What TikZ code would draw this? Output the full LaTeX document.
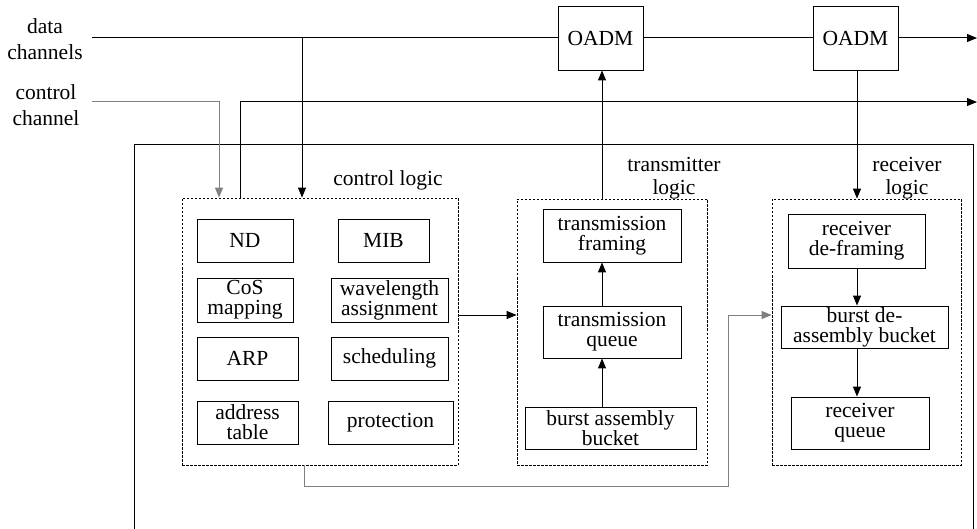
\documentclass[tikz,border=0pt]{standalone}
\usepackage{fontspec}
\setmainfont{Liberation Serif}
\usetikzlibrary{arrows.meta}
\begin{document}
\begin{tikzpicture}[x=1pt,y=-1pt,
  every node/.style={font=\fontsize{21.5}{20}\selectfont, inner sep=0pt, align=center},
  box/.style={draw=black, line width=0.9pt},
  dbox/.style={draw=black, line width=0.8pt, dash pattern=on 2.5pt off 1.5pt},
  arr/.style={-{Triangle[length=10pt,width=8pt]}},
  ln/.style={line width=1pt, black},
  gln/.style={line width=1pt, black!50},
  lbl/.style={font=\fontsize{21.5}{23}\selectfont},
  sidelbl/.style={font=\fontsize{21.5}{26}\selectfont}]
\useasboundingbox (0,0) rectangle (977,529);

% OADMs
\node[box, minimum width=85pt, minimum height=64pt] (o1) at (600.5,38) {OADM};
\node[box, minimum width=85pt, minimum height=64pt] (o2) at (855.5,38) {OADM};

% labels left
\node[sidelbl] (ldata) at (45,39) {data\\channels};
\node[sidelbl] (lctrl) at (46,105) {control\\channel};

% dashed groups
\node[dbox, minimum width=276pt, minimum height=267pt] (cl) at (320,331.5) {};
\node[dbox, minimum width=190pt, minimum height=266pt] (tl) at (612,332) {};
\node[dbox, minimum width=189pt, minimum height=266pt] (rl) at (866.5,332) {};

\node (clt) at (388,180) {control logic};
\node[lbl] (tlt) at (674,178) {transmitter\\logic};
\node[lbl] (rlt) at (907,178) {receiver\\logic};

% control logic boxes
\node[box, minimum width=96pt, minimum height=43pt] (nd) at (245,240.5) {ND};
\node[box, minimum width=91pt, minimum height=43pt] (mib) at (383.5,240.5) {MIB};
\node[box, minimum width=96pt, minimum height=44pt] (cos) at (245,300) {CoS\\mapping};
\node[box, minimum width=117pt, minimum height=44pt] (wa) at (389.5,300) {wavelength\\assignment};
\node[box, minimum width=101pt, minimum height=43pt] (arp) at (247.5,358.5) {ARP};
\node[box, minimum width=117pt, minimum height=43pt] (sch) at (389.5,358.5) {scheduling};
\node[box, minimum width=101pt, minimum height=43pt] (adt) at (247.5,422.5) {address\\table};
\node[box, minimum width=125pt, minimum height=43pt] (prot) at (390.5,422.5) {protection};

% transmitter boxes
\node[box, minimum width=138pt, minimum height=53pt] (tf) at (612,235.5) {transmission\\framing};
\node[box, minimum width=138pt, minimum height=52pt] (tq) at (612,332) {transmission\\queue};
\node[box, minimum width=171pt, minimum height=42pt] (bab) at (610.5,428) {burst assembly\\bucket};

% receiver boxes
\node[box, minimum width=137pt, minimum height=54pt] (rdf) at (856.5,241) {receiver\\de-framing};
\node[box, minimum width=167pt, minimum height=42pt] (bdb) at (864.5,327) {burst de-\\assembly bucket};
\node[box, minimum width=138pt, minimum height=52pt] (rq) at (860,423) {receiver\\queue};

% helper coordinates
\coordinate (dIn) at (92,38);
\coordinate (dOut) at (977,38);
\coordinate (dTap) at (302,38);
\coordinate (cIn) at (92,102);
\coordinate (cDrop) at (219,102);
\coordinate (cUp) at (240,102);
\coordinate (cOut) at (977,102);
\coordinate (txX) at (602,0);
\coordinate (rxX) at (857,0);
\coordinate (clDown) at (304,0);
\coordinate (loopB) at (728,486);
\coordinate (loopY) at (0,315);

% outer frame
\draw[ln] (134,529) -- (134,145) -- (973,145) -- (973,529);

% data channels
\draw[ln] (dIn) -- (o1.west);
\draw[ln] (o1.east) -- (o2.west);
\draw[ln, arr] (o2.east) -- (dOut);
\draw[ln, arr] (dTap) -- (dTap |- cl.north);

% control channel
\draw[gln, arr] (cIn) -- (cDrop) -- (cDrop |- cl.north);
\draw[ln, arr] (cUp |- cl.north) -- (cUp) -- (cOut);

% transmitter
\draw[ln, arr] (txX |- tl.north) -- (txX |- o1.south);
\draw[ln, arr] (txX |- tq.north) -- (txX |- tf.south);
\draw[ln, arr] (txX |- bab.north) -- (txX |- tq.south);

% receiver
\draw[ln, arr] (rxX |- o2.south) -- (rxX |- rl.north);
\draw[ln, arr] (rxX |- rdf.south) -- (rxX |- bdb.north);
\draw[ln, arr] (rxX |- bdb.south) -- (rxX |- rq.north);

% control -> transmitter
\draw[ln, arr] (cl.east |- loopY) -- (tl.west |- loopY);
% control -> receiver loop
\draw[gln, arr] (clDown |- cl.south) -- (clDown |- loopB) -- (loopB) -- (loopB |- loopY) -- (rl.west |- loopY);
\end{tikzpicture}
\end{document}
